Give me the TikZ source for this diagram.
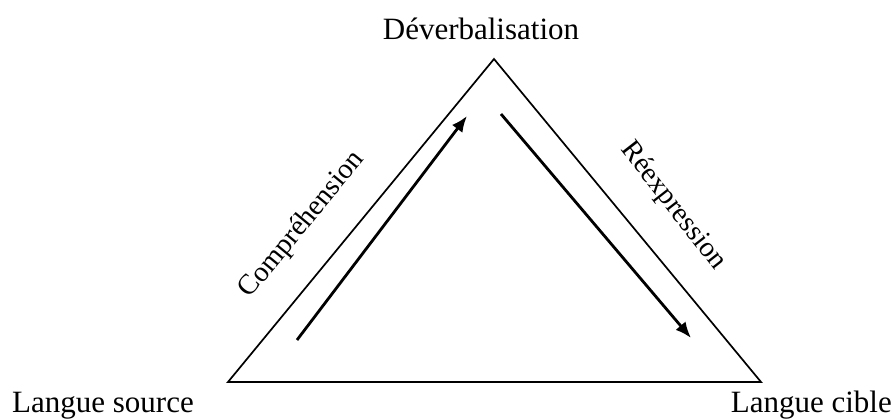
\documentclass[tikz,border=0pt]{standalone}
\usepackage{fontspec}
\setmainfont{Liberation Serif}
\usetikzlibrary{arrows.meta}
\begin{document}
\begin{tikzpicture}[x=1pt,y=-1pt,
  side/.style={line width=1.7pt,line join=miter},
  flow/.style={line width=2.8pt,-{Latex[length=16pt,width=13pt]}},
  lbl/.style={font=\fontsize{31}{37}\selectfont,inner sep=0pt},
  rlbl/.style={font=\fontsize{28.5}{34}\selectfont,inner sep=0pt}]
\useasboundingbox (0,0) rectangle (894,419);
\coordinate (T) at (494,59);
\coordinate (L) at (228,382);
\coordinate (R) at (761,382);
\draw[side] (T) -- (L) -- (R) -- cycle;
\coordinate (a1) at (297,340);
\coordinate (a2) at (467,116);
\coordinate (b1) at (501,114);
\coordinate (b2) at (691,338);
\draw[flow] (a1) -- (a2);
\draw[flow] (b1) -- (b2);
\node[lbl,anchor=base] (top) at (481,40) {Déverbalisation};
\node[lbl,anchor=base west] (src) at (12,412) {Langue source};
\node[lbl,anchor=base east] (tgt) at (892,412) {Langue cible};
\node[rlbl,rotate=50.5] (comp) at (302,225) {Compréhension};
\node[rlbl,rotate=-52] (reex) at (673,206) {Réexpression};
\end{tikzpicture}
\end{document}
